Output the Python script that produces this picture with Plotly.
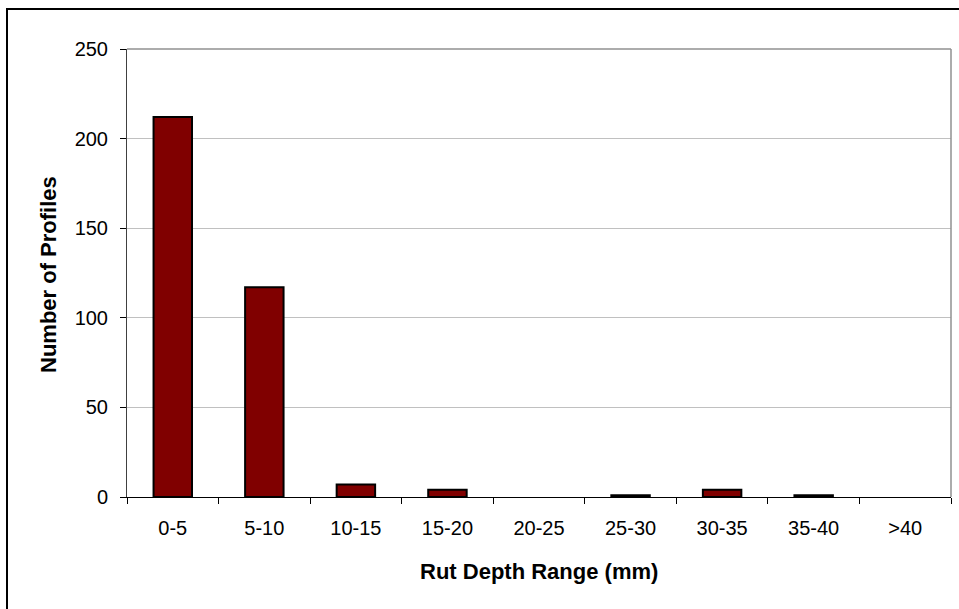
import plotly.graph_objects as go

# Rut depth distribution
ranges = ["0-5", "5-10", "10-15", "15-20", "20-25", "25-30", "30-35", "35-40", ">40"]
profiles = [212, 117, 7, 4, 0, 1, 4, 1, 0]
y_ticks = [0, 50, 100, 150, 200, 250]

FONT = "Liberation Sans, Arial, sans-serif"

# empty bins get no outline so nothing is drawn for them
outline_widths = [2 if v > 0 else 0 for v in profiles]

fig = go.Figure(
    go.Bar(
        x=ranges,
        y=profiles,
        width=0.42,
        marker=dict(color="#800000", line=dict(color="#000000", width=outline_widths)),
    )
)

fig.update_layout(
    width=959,
    height=609,
    margin=dict(l=127, r=8, t=49, b=112),
    paper_bgcolor="white",
    plot_bgcolor="white",
    showlegend=False,
    font=dict(family=FONT, size=20, color="black"),
    xaxis=dict(
        type="category",
        tickson="boundaries",
        ticks="outside",
        ticklen=6,
        tickcolor="black",
        showline=True,
        linecolor="black",
        linewidth=1,
        showgrid=False,
        ticklabelstandoff=13,
        tickfont=dict(size=20),
    ),
    yaxis=dict(
        range=[0, 250],
        tickvals=y_ticks,
        ticks="outside",
        ticklen=6,
        tickcolor="black",
        showline=True,
        linecolor="#404040",
        linewidth=1,
        showgrid=True,
        gridcolor="#c0c0c0",
        gridwidth=1,
        zeroline=False,
        ticklabelstandoff=8,
        tickfont=dict(size=20),
    ),
    annotations=[
        dict(text="<b>Rut Depth Range (mm)</b>", xref="paper", yref="paper",
             x=0.5, y=(497 - 571) / 448, xanchor="center", yanchor="middle",
             showarrow=False, font=dict(size=22)),
        dict(text="<b>Number of Profiles</b>", xref="paper", yref="paper",
             x=(48 - 127) / 824, y=(497 - 275) / 448, xanchor="center", yanchor="middle",
             textangle=-90, showarrow=False, font=dict(size=22)),
    ],
    shapes=[
        # top and right edges of the plot area
        dict(type="line", xref="paper", yref="paper", x0=0, x1=1, y0=1, y1=1,
             line=dict(color="#909090", width=1.5)),
        dict(type="line", xref="paper", yref="paper", x0=1, x1=1, y0=0, y1=1,
             line=dict(color="#909090", width=1.5)),
        # outer chart border
        dict(type="rect", xref="paper", yref="paper",
             x0=(7 - 127) / 824, x1=(970 - 127) / 824,
             y0=(497 - 620) / 448, y1=(497 - 9) / 448,
             line=dict(color="black", width=2), layer="below"),
    ],
)

fig.write_html("out.html")
